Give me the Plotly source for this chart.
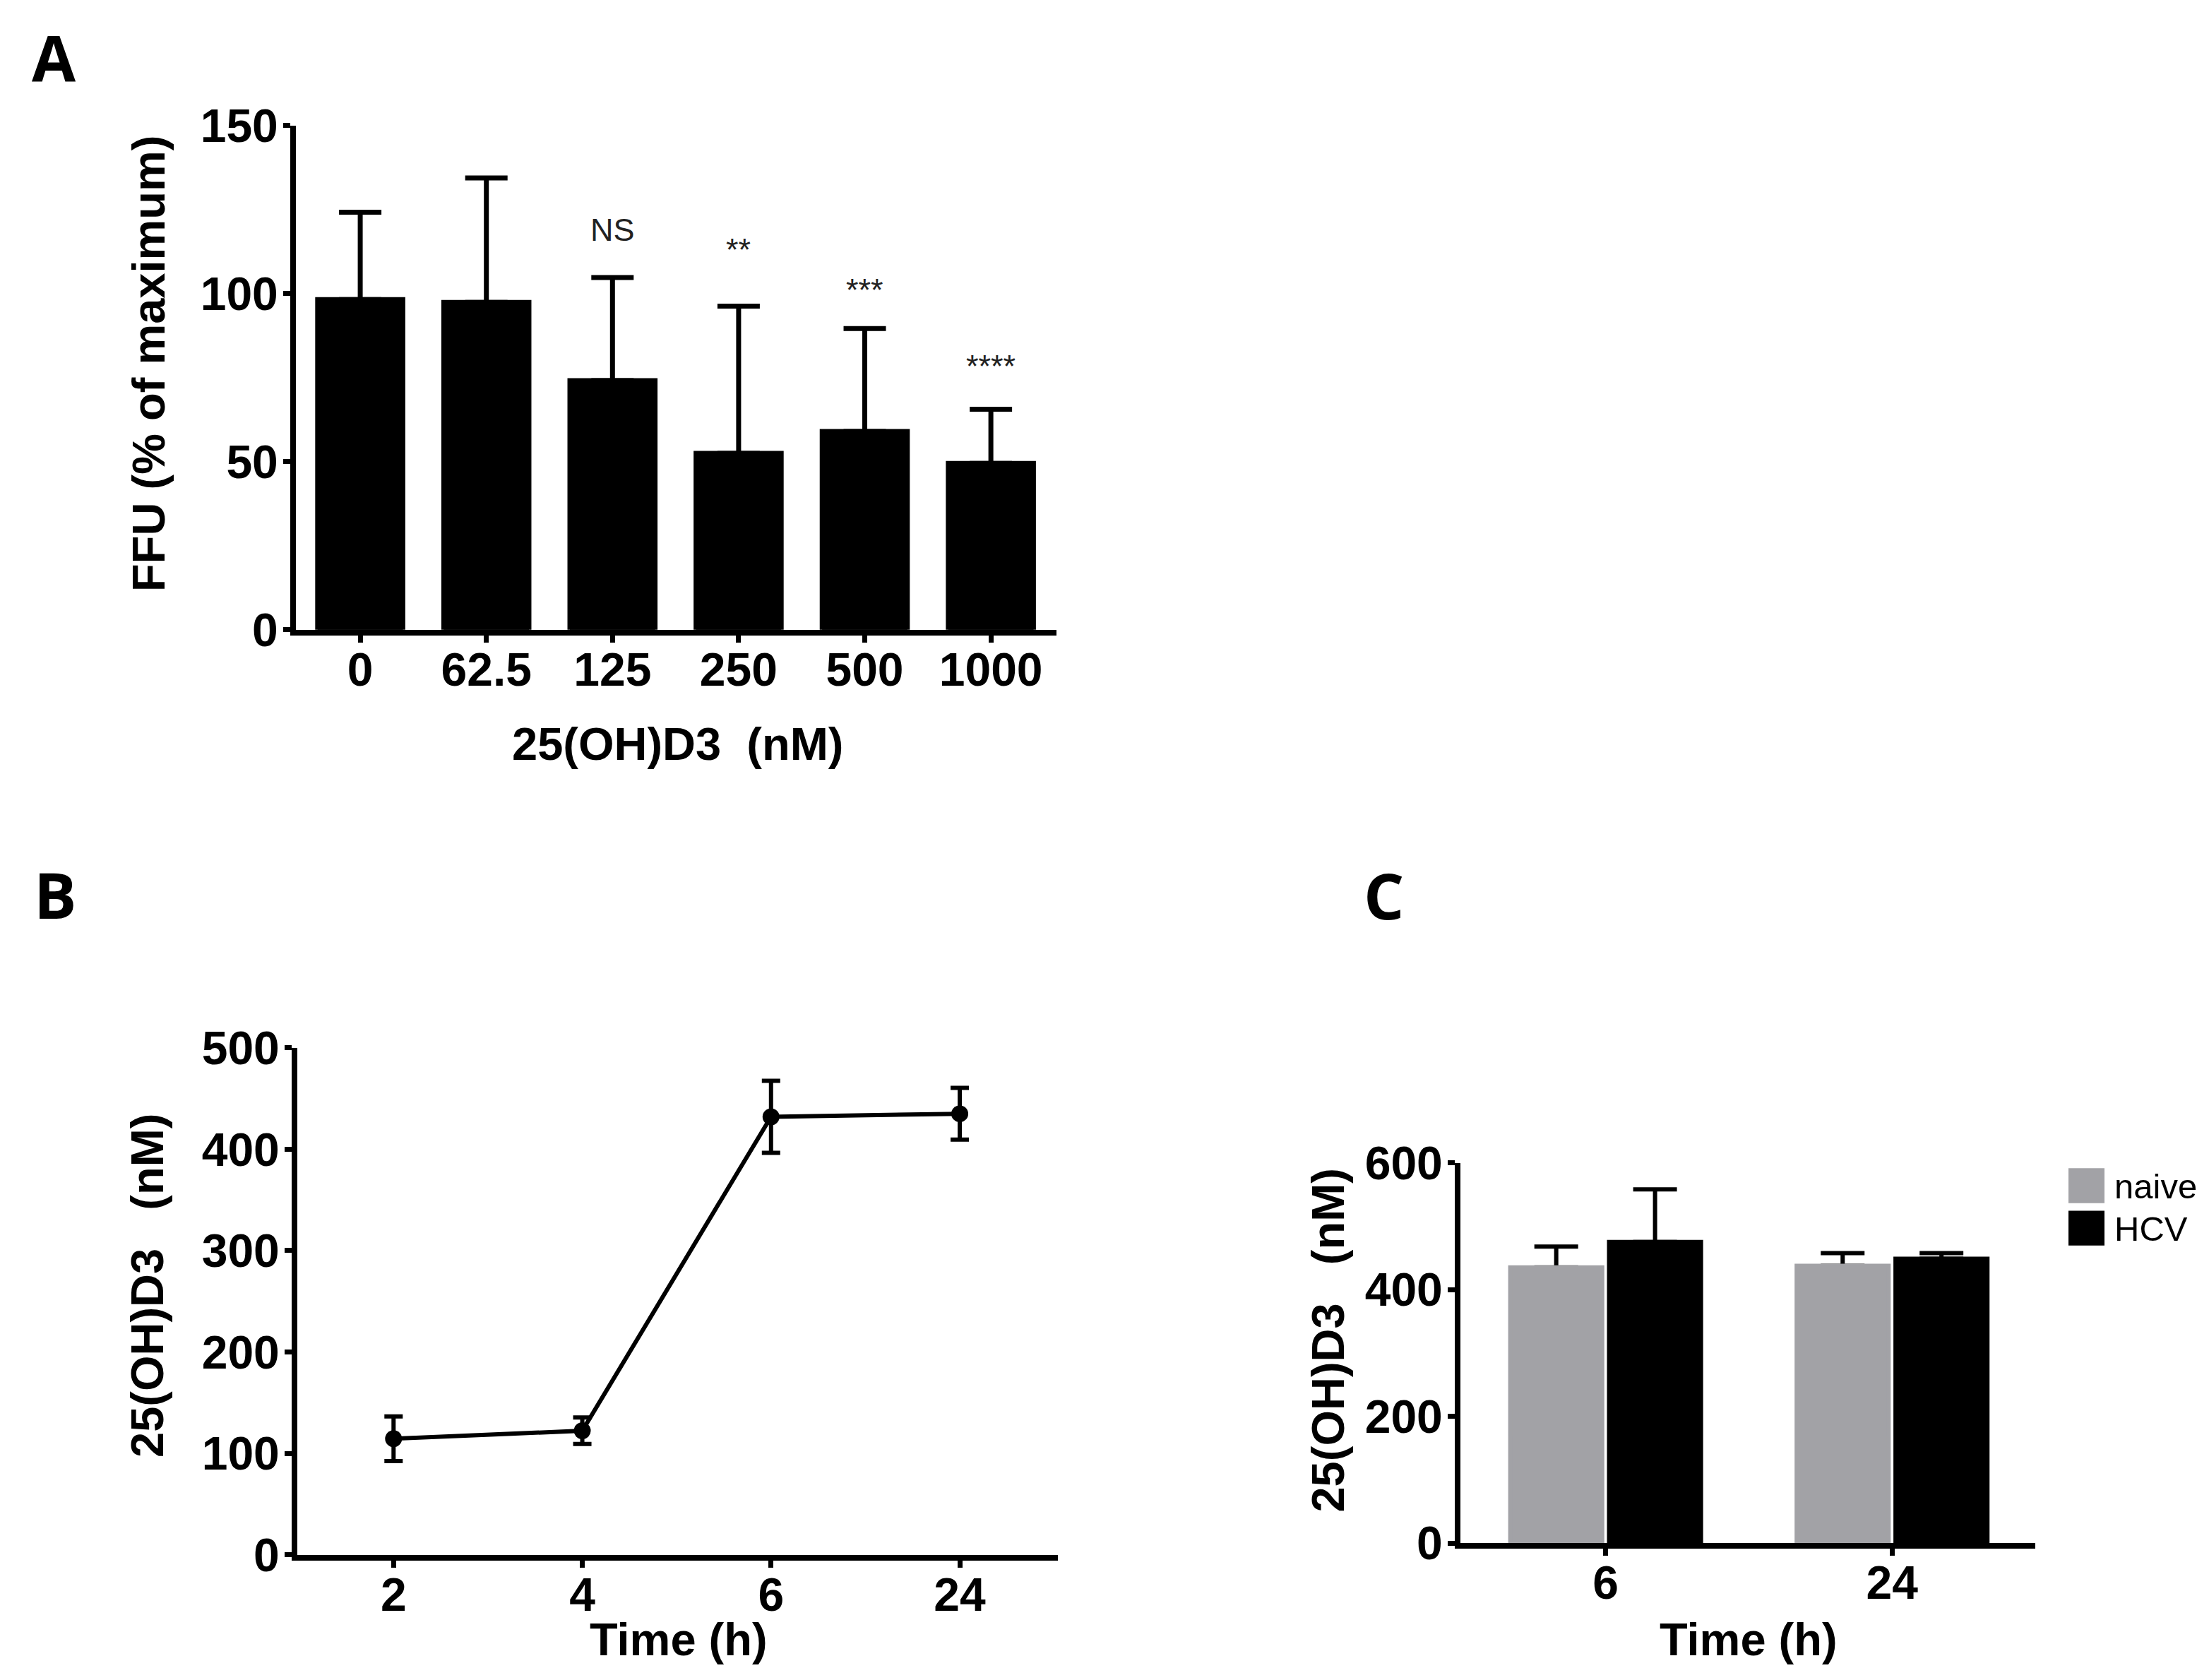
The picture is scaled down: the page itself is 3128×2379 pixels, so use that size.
import plotly.graph_objects as go

# figure is drawn at the exact size of the reference, margins 0
W, H = 3128, 2379


def px(x):
    return x / W


def py(y):
    return 1 - y / H


# Panel A: FFU after 25(OH)D3 treatment
dose_labels = ["0", "62.5", "125", "250", "500", "1000"]
ffu_mean = [98.2, 97.4, 74.1, 52.5, 59.0, 49.5]
ffu_err = [26.0, 37.0, 30.7, 43.8, 30.6, 16.1]
sig_labels = ["", "", "NS", "**", "***", "****"]
sig_y = [None, None, 119.0, 113.0, 101.0, 78.5]

# Panel B: 25(OH)D3 over time
time_labels = ["2", "4", "6", "24"]
conc_mean = [114.5, 122.4, 432.0, 435.0]
conc_err = [22.0, 13.0, 35.5, 25.5]

# Panel C: naive vs HCV
c_time_labels = ["6", "24"]
naive_mean = [435.0, 437.5]
naive_err = [32.7, 20.0]
hcv_mean = [475.0, 448.5]
hcv_err = [83.0, 9.0]

GREY = "#A2A2A6"
BASE = "Liberation Sans, Arial, sans-serif"
LABEL_FONT = "Open Sans, Lato, sans-serif"

fig = go.Figure()


def bars_with_up_error(x, y, err, color, xa, ya, group, width=None, line_w=6, err_w=30):
    # bar + error bar, then the same bar again on top so only the upper whisker shows
    fig.add_trace(go.Bar(
        x=x, y=y, xaxis=xa, yaxis=ya, offsetgroup=group, width=width,
        marker=dict(color=color, line=dict(width=0)),
        error_y=dict(type="data", array=err, arrayminus=[0] * len(err),
                     symmetric=False, thickness=line_w, width=err_w, color="black"),
        showlegend=False, hoverinfo="skip",
    ))
    fig.add_trace(go.Bar(
        x=x, y=y, xaxis=xa, yaxis=ya, offsetgroup=group, width=width,
        marker=dict(color=color, line=dict(width=line_w, color=color)),
        showlegend=False,
    ))


bars_with_up_error(dose_labels, ffu_mean, ffu_err, "black", "x", "y", "a",
                   width=0.675, line_w=7, err_w=30)

fig.add_trace(go.Scatter(
    x=time_labels, y=conc_mean, xaxis="x2", yaxis="y2",
    mode="lines+markers",
    line=dict(color="black", width=6),
    marker=dict(color="black", size=24),
    error_y=dict(type="data", array=conc_err, thickness=6, width=13, color="black"),
    showlegend=False,
))

bars_with_up_error(c_time_labels, naive_mean, naive_err, GREY, "x3", "y3", "naive",
                   line_w=6, err_w=31)
bars_with_up_error(c_time_labels, hcv_mean, hcv_err, "black", "x3", "y3", "hcv",
                   line_w=6, err_w=31)

tick_font = dict(family=BASE, size=66, color="black", weight="bold")
axis_common = dict(showline=True, linecolor="black", linewidth=8, ticks="outside",
                   ticklen=10, tickwidth=7, tickcolor="black", showgrid=False,
                   zeroline=False, tickfont=tick_font, fixedrange=True)
x_common = dict(type="category", ticklabelstandoff=-18, **axis_common)
y_common = dict(ticklabelstandoff=-6, **axis_common)

fig.update_layout(
    width=W, height=H,
    margin=dict(l=0, r=0, t=0, b=0),
    paper_bgcolor="white", plot_bgcolor="white",
    barmode="group", bargap=0.31, bargroupgap=0.07,
    xaxis=dict(domain=[px(411), px(1488)], anchor="y", range=[-0.51, 5.52], **x_common),
    yaxis=dict(domain=[py(874), py(137)], anchor="x", range=[0, 150],
               tickvals=[0, 50, 100, 150], **y_common),
    xaxis2=dict(domain=[px(413), px(1490)], anchor="y2", range=[-0.51, 3.52], **x_common),
    yaxis2=dict(domain=[py(2226), py(1485)], anchor="x2", range=[0, 500],
                tickvals=[0, 100, 200, 300, 400, 500], **y_common),
    xaxis3=dict(domain=[px(2060), px(2874)], anchor="y3", range=[-0.507, 1.5], **x_common),
    yaxis3=dict(domain=[py(2209), py(1653)], anchor="x3", range=[0, 600],
                tickvals=[0, 200, 400, 600], **y_common),
)

title_font = dict(family=BASE, size=65, color="black", weight="bold")
annotations = []

# axis titles
annotations.append(dict(text="25(OH)D3\u00a0\u00a0(nM)", x=px(951), y=py(1041),
                        font=title_font))
annotations.append(dict(text="FFU (% of maximum)", x=px(203), y=py(485),
                        textangle=-90, font=title_font))
annotations.append(dict(text="Time (h)", x=px(953), y=py(2350), font=title_font))
annotations.append(dict(text="25(OH)D3\u00a0\u00a0\u00a0(nM)", x=px(200), y=py(1832),
                        textangle=-90, font=title_font))
annotations.append(dict(text="Time (h)", x=px(2468), y=py(2350), font=title_font))
annotations.append(dict(text="25(OH)D3\u00a0\u00a0\u00a0(nM)", x=px(1873), y=py(1912),
                        textangle=-90, font=title_font))

# panel letters
for letter, lx, ly in [("A", 68, 36), ("B", 70, 1260), ("C", 1951, 1261)]:
    annotations.append(dict(text=letter, x=px(lx), y=py(ly),
                            font=dict(family=LABEL_FONT, size=90, color="black",
                                      weight="bold")))

for a in annotations:
    a.update(xref="paper", yref="paper", showarrow=False,
             xanchor="center", yanchor="middle")

# significance marks above panel A bars (category index as x)
for i, (lab, yy) in enumerate(zip(sig_labels, sig_y)):
    if lab:
        annotations.append(dict(text=lab, x=i, y=yy, xref="x", yref="y",
                                showarrow=False, xanchor="center", yanchor="middle",
                                font=dict(family=BASE, size=45, color="#222222")))

# legend for panel C
legend_items = [("naive", GREY, 1661, 1712), ("HCV", "black", 1723, 1774)]
shapes = []
for name, col, y0, y1 in legend_items:
    shapes.append(dict(type="rect", xref="paper", yref="paper",
                       x0=px(2921), x1=px(2972), y0=py(y1), y1=py(y0),
                       fillcolor=col, line=dict(width=0)))
    annotations.append(dict(text=name, x=px(2984), y=py((y0 + y1) / 2 + 1),
                            xref="paper", yref="paper", showarrow=False,
                            xanchor="left", yanchor="middle",
                            font=dict(family=BASE, size=49, color="black")))

fig.update_layout(annotations=annotations, shapes=shapes)

fig.write_html("out.html")
